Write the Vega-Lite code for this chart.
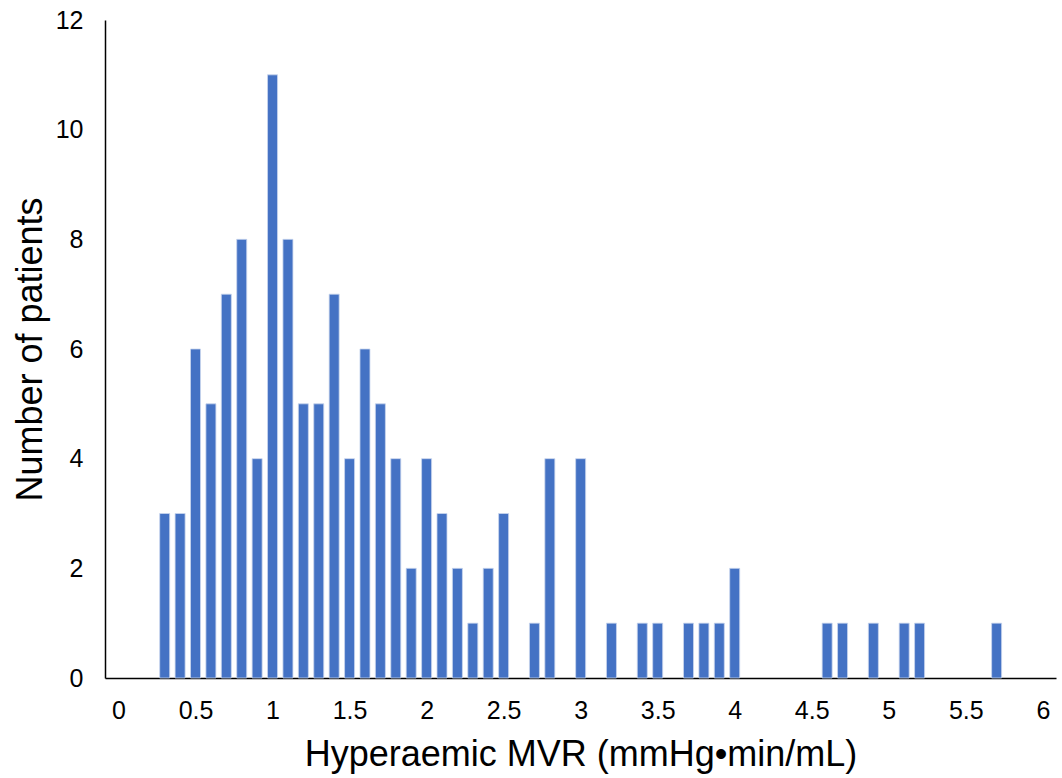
{
  "$schema": "https://vega.github.io/schema/vega-lite/v6.json",
  "autosize": "none",
  "width": 951,
  "height": 658,
  "padding": {"left": 105, "top": 20, "right": 6, "bottom": 100},
  "background": "white",
  "config": {
    "view": {"stroke": null},
    "font": "Liberation Sans",
    "axis": {"grid": false, "ticks": false, "domainColor": "#000000", "domainWidth": 1.5, "labelColor": "#000000", "titleColor": "#000000", "titleFontWeight": "normal", "labelFont": "Liberation Sans", "titleFont": "Liberation Sans"}
  },
  "data": {
    "values": [
      {"mvr": 0.3, "patients": 3},
      {"mvr": 0.4, "patients": 3},
      {"mvr": 0.5, "patients": 6},
      {"mvr": 0.6, "patients": 5},
      {"mvr": 0.7, "patients": 7},
      {"mvr": 0.8, "patients": 8},
      {"mvr": 0.9, "patients": 4},
      {"mvr": 1.0, "patients": 11},
      {"mvr": 1.1, "patients": 8},
      {"mvr": 1.2, "patients": 5},
      {"mvr": 1.3, "patients": 5},
      {"mvr": 1.4, "patients": 7},
      {"mvr": 1.5, "patients": 4},
      {"mvr": 1.6, "patients": 6},
      {"mvr": 1.7, "patients": 5},
      {"mvr": 1.8, "patients": 4},
      {"mvr": 1.9, "patients": 2},
      {"mvr": 2.0, "patients": 4},
      {"mvr": 2.1, "patients": 3},
      {"mvr": 2.2, "patients": 2},
      {"mvr": 2.3, "patients": 1},
      {"mvr": 2.4, "patients": 2},
      {"mvr": 2.5, "patients": 3},
      {"mvr": 2.7, "patients": 1},
      {"mvr": 2.8, "patients": 4},
      {"mvr": 3.0, "patients": 4},
      {"mvr": 3.2, "patients": 1},
      {"mvr": 3.4, "patients": 1},
      {"mvr": 3.5, "patients": 1},
      {"mvr": 3.7, "patients": 1},
      {"mvr": 3.8, "patients": 1},
      {"mvr": 3.9, "patients": 1},
      {"mvr": 4.0, "patients": 2},
      {"mvr": 4.6, "patients": 1},
      {"mvr": 4.7, "patients": 1},
      {"mvr": 4.9, "patients": 1},
      {"mvr": 5.1, "patients": 1},
      {"mvr": 5.2, "patients": 1},
      {"mvr": 5.7, "patients": 1}
    ]
  },
  "mark": {"type": "bar", "size": 10, "color": "#4472C4", "stroke": "#C9D6EE", "strokeWidth": 0.8},
  "encoding": {
    "x": {
      "field": "mvr",
      "type": "quantitative",
      "scale": {"domain": [-0.055, 6.053], "nice": false, "zero": false},
      "axis": {
        "title": "Hyperaemic MVR (mmHg•min/mL)",
        "values": [0, 0.5, 1, 1.5, 2, 2.5, 3, 3.5, 4, 4.5, 5, 5.5, 6],
        "format": "~g",
        "labelFontSize": 25,
        "labelPadding": 20,
        "labelFlush": false,
        "titleFontSize": 36,
        "titlePadding": 14
      }
    },
    "y": {
      "field": "patients",
      "type": "quantitative",
      "scale": {"domain": [0, 12], "nice": false},
      "axis": {
        "title": "Number of patients",
        "values": [0, 2, 4, 6, 8, 10, 12],
        "labelFontSize": 25,
        "labelPadding": 22,
        "labelFlush": false,
        "titleFontSize": 36,
        "titlePadding": 6
      }
    }
  }
}
